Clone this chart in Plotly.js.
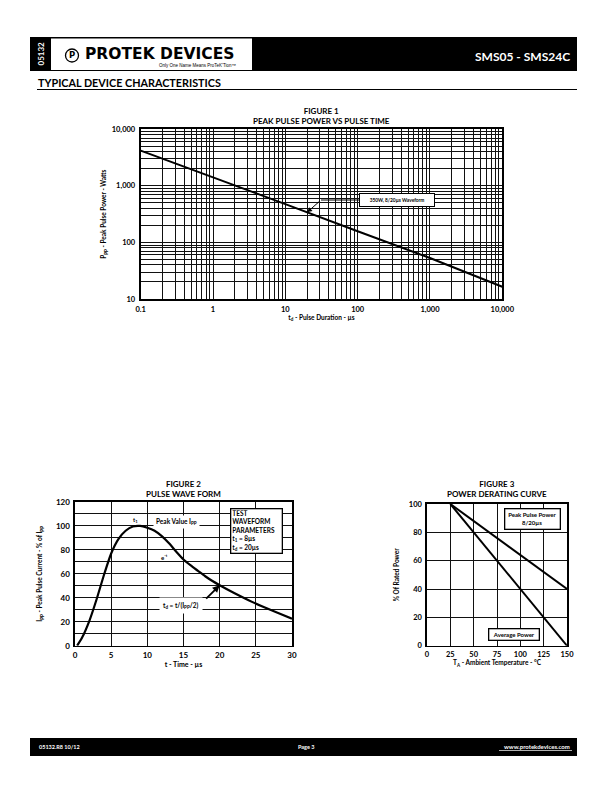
<!DOCTYPE html>
<html><head><meta charset="utf-8">
<script src="https://cdn.plot.ly/plotly-3.0.1.min.js"></script>
<style>body{margin:0;background:#fff}#chart{width:612px;height:792px}</style>
</head><body><div id="chart"></div>
<script>
// ---------- Figure 1: Peak pulse power vs pulse time ----------
const f1Duration = [0.1, 1, 10, 100, 1000, 10000];
const f1Power = [4200, 1430, 475, 158, 53, 16.5];
const f1XTickVals = [0.1, 1, 10, 100, 1000, 10000];
const f1XTickLabels = ['0.1', '1', '10', '100', '1,000', '10,000'];
const f1YTickVals = [10, 100, 1000, 10000];
const f1YTickLabels = ['10', '100', '1,000', '10,000'];

// ---------- Figure 2: Pulse wave form ----------
const f2Time = [0.3, 1, 2, 3, 4, 5, 6, 7, 8, 9, 10, 11, 12, 13, 14, 15, 16, 17, 18, 19, 20, 22, 24, 26, 28, 30];
const f2Current = [0, 7, 21, 39, 59, 77, 89, 96, 99.5, 100, 98.5, 96, 91.5, 85.5, 78.5, 72, 67, 62.5, 58, 54, 50.5, 44, 38, 32.5, 27.5, 22.5];
const f2XTicks = [0, 5, 10, 15, 20, 25, 30];
const f2YTicks = [0, 20, 40, 60, 80, 100, 120];

// ---------- Figure 3: Power derating curve ----------
const f3Temp = [25, 150];
const f3PeakPulse = [100, 40];
const f3Average = [100, 0];
const f3XTicks = [0, 25, 50, 75, 100, 125, 150];
const f3YTicks = [0, 20, 40, 60, 80, 100];

const W = 612, H = 792;
const px = v => v / W;
const py = v => 1 - v / H;
const FONT = 'Lato, "Open Sans", "Liberation Sans", sans-serif';

// minor log-grid positions (2..9 of each decade)
function logMinor(lo, hi) {
  const vals = [];
  for (let e = lo; e < hi; e++) for (let d = 2; d <= 9; d++) vals.push(d * Math.pow(10, e));
  return vals;
}

const tf = (s) => ({family: FONT, size: s, color: '#000', weight: 700});

const baseAxis = {
  showline: true, linecolor: '#000', mirror: true, linewidth: 2,
  showgrid: true, gridcolor: '#111', gridwidth: 1, zeroline: false,
  ticks: 'outside', ticklen: 2, tickcolor: 'rgba(0,0,0,0)', fixedrange: true
};
const logMinorAxis = (lo, hi) => ({tickmode: 'array', tickvals: logMinor(lo, hi), showgrid: true, gridcolor: '#111', gridwidth: 1, ticks: ''});

const traces = [
  {x: f1Duration, y: f1Power, xaxis: 'x', yaxis: 'y', mode: 'lines', line: {color: '#000', width: 2}},
  {x: f2Time, y: f2Current, xaxis: 'x2', yaxis: 'y2', mode: 'lines', line: {color: '#000', width: 2.2, shape: 'spline', smoothing: 0.5}},
  {x: f3Temp, y: f3PeakPulse, xaxis: 'x3', yaxis: 'y3', mode: 'lines', line: {color: '#000', width: 2}},
  {x: f3Temp, y: f3Average, xaxis: 'x3', yaxis: 'y3', mode: 'lines', line: {color: '#000', width: 2}}
];

const annotations = [
  // header
  {xref: 'paper', yref: 'paper', x: px(40.5), y: py(54), text: '<b>05132</b>', textangle: -90, font: {family: FONT, size: 8, color: '#fff'}},
  {xref: 'paper', yref: 'paper', x: px(72), y: py(55.5), text: '<b>P</b>', font: {family: 'DejaVu Sans', size: 8.5, color: '#000'}},
  {xref: 'paper', yref: 'paper', x: px(83), y: py(54.5), xanchor: 'left', text: '<b>PROTEK DEVICES</b>', font: {family: 'DejaVu Sans', size: 15.5, color: '#000'}},
  {xref: 'paper', yref: 'paper', x: px(238), y: py(65.5), xanchor: 'right', text: 'Only One Name Means ProTeK\'Tion™', font: {family: 'Liberation Sans', size: 4.5, color: '#000'}},
  {xref: 'paper', yref: 'paper', x: px(572), y: py(56.5), xanchor: 'right', text: '<b>SMS05 - SMS24C</b>', font: {family: FONT, size: 12, color: '#fff'}},
  {xref: 'paper', yref: 'paper', x: px(36), y: py(82), xanchor: 'left', text: '<b>TYPICAL DEVICE CHARACTERISTICS</b>', font: {family: FONT, size: 10.8, color: '#000'}},
  // footer
  {xref: 'paper', yref: 'paper', x: px(37), y: py(747), xanchor: 'left', text: '<b>05132.R8 10/12</b>', font: {family: FONT, size: 5.5, color: '#fff'}},
  {xref: 'paper', yref: 'paper', x: px(306), y: py(747), text: '<b>Page 3</b>', font: {family: FONT, size: 5.5, color: '#fff'}},
  {xref: 'paper', yref: 'paper', x: px(572), y: py(746.5), xanchor: 'right', text: '<b>www.protekdevices.com</b>', font: {family: FONT, size: 6, color: '#fff'}},
  // figure titles
  {xref: 'paper', yref: 'paper', x: px(321.5), y: py(115.5), text: '<b>FIGURE 1</b><br><b>PEAK PULSE POWER VS PULSE TIME</b>', font: {family: FONT, size: 8, color: '#000'}},
  {xref: 'paper', yref: 'paper', x: px(183.5), y: py(489), text: '<b>FIGURE 2</b><br><b>PULSE WAVE FORM</b>', font: {family: FONT, size: 8, color: '#000'}},
  {xref: 'paper', yref: 'paper', x: px(497), y: py(489), text: '<b>FIGURE 3</b><br><b>POWER DERATING CURVE</b>', font: {family: FONT, size: 8, color: '#000'}},
  // figure 1 callout
  {xref: 'paper', yref: 'paper', x: px(397), y: py(200), text: '<b>350W, 8/20µs Waveform</b>', bgcolor: '#fff', bordercolor: '#000', borderwidth: 1, width: 72, height: 10, font: {family: FONT, size: 4.8, color: '#000'}},
  {xref: 'x', yref: 'y', x: Math.log10(20), y: Math.log10(340), text: '', showarrow: true, arrowhead: 2, arrowsize: 1, arrowwidth: 1, arrowcolor: '#000', ax: 14, ay: -12.5},
  // figure 2 notes
  {xref: 'x2', yref: 'y2', x: 8.3, y: 105, text: '<b>t<sub>1</sub></b>', font: {family: FONT, size: 6, color: '#000'}},
  {xref: 'x2', yref: 'y2', x: 14, y: 103, text: '<b>Peak Value I<sub>PP</sub></b>', bgcolor: '#fff', borderpad: 2, font: {family: FONT, size: 6.5, color: '#000'}},
  {xref: 'x2', yref: 'y2', x: 12.4, y: 74, text: '<b>e<sup>-t</sup></b>', font: {family: FONT, size: 6, color: '#000'}},
  {xref: 'x2', yref: 'y2', x: 14.6, y: 33.5, text: '<b>t<sub>d</sub> = t/(I<sub>PP</sub>/2)</b>', bgcolor: '#fff', borderpad: 3, font: {family: FONT, size: 6.5, color: '#000'}},
  {xref: 'x2', yref: 'y2', x: 20, y: 50.5, text: '', showarrow: true, arrowhead: 2, arrowsize: 0.8, arrowwidth: 1.8, arrowcolor: '#000', ax: -15, ay: 15},
  {xref: 'x2', yref: 'y2', x: 25.1, y: 95.4, text: '<b>TEST<br>WAVEFORM<br>PARAMETERS<br>t<sub>1</sub> = 8µs<br>t<sub>d</sub> = 20µs</b>', align: 'left', bgcolor: '#fff', bordercolor: '#000', borderwidth: 1.3, width: 48, height: 41, font: {family: FONT, size: 6.5, color: '#000'}},
  // figure 3 notes
  {xref: 'x3', yref: 'y3', x: 112.5, y: 89.4, text: '<b>Peak Pulse Power<br>8/20µs</b>', bgcolor: '#fff', bordercolor: '#000', borderwidth: 1.3, width: 52, height: 17, font: {family: FONT, size: 6, color: '#000'}},
  {xref: 'x3', yref: 'y3', x: 93.2, y: 7.9, text: '<b>Average Power</b>', bgcolor: '#fff', bordercolor: '#000', borderwidth: 1.3, width: 47, height: 8, font: {family: FONT, size: 6, color: '#000'}}
].map(a => Object.assign({showarrow: false, xanchor: 'center', yanchor: 'middle'}, a));

const layout = {
  width: W, height: H, margin: {l: 0, r: 0, t: 0, b: 0},
  paper_bgcolor: '#fff', plot_bgcolor: '#fff', showlegend: false,
  font: {family: FONT, color: '#000'},
  xaxis: Object.assign({}, baseAxis, {
    type: 'log', range: [-1, 4], domain: [px(140.7), px(502.3)], anchor: 'y',
    tickmode: 'array', tickvals: f1XTickVals, ticktext: f1XTickLabels, tickfont: tf(7.5),
    minor: logMinorAxis(-1, 4),
    title: {text: 't<sub>d</sub> - Pulse Duration - µs', font: tf(6.5), standoff: 0}
  }),
  yaxis: Object.assign({}, baseAxis, {
    type: 'log', range: [1, 4], domain: [py(299), py(129.3)], anchor: 'x',
    tickmode: 'array', tickvals: f1YTickVals, ticktext: f1YTickLabels, tickfont: tf(7.5),
    minor: logMinorAxis(1, 4),
    title: {text: 'P<sub>PP</sub> - Peak Pulse Power - Watts', font: tf(6.5), standoff: 4}
  }),
  xaxis2: Object.assign({}, baseAxis, {
    range: [0, 30], domain: [px(75), px(292)], anchor: 'y2', linewidth: 1.6, ticklen: 1,
    tickmode: 'array', tickvals: f2XTicks, tickfont: tf(8),
    title: {text: 't - Time - µs', font: tf(7), standoff: 2}
  }),
  yaxis2: Object.assign({}, baseAxis, {
    range: [0, 120], domain: [py(645.7), py(502)], anchor: 'x2', linewidth: 1.6,
    tickmode: 'array', tickvals: f2YTicks, tickfont: tf(8),
    minor: {dtick: 10, showgrid: true, gridcolor: '#111', gridwidth: 1, ticks: ''},
    title: {text: 'I<sub>PP</sub> - Peak Pulse Current - % of I<sub>PP</sub>', font: tf(6.5), standoff: 12}
  }),
  xaxis3: Object.assign({}, baseAxis, {
    range: [0, 150], domain: [px(427), px(567)], anchor: 'y3', linewidth: 1.6, ticklen: 1,
    tickmode: 'array', tickvals: f3XTicks, tickfont: tf(7.5),
    title: {text: 'T<sub>A</sub> - Ambient Temperature - °C', font: tf(6.5), standoff: 2}
  }),
  yaxis3: Object.assign({}, baseAxis, {
    range: [0, 100], domain: [py(645.7), py(504)], anchor: 'x3', linewidth: 1.6,
    tickmode: 'array', tickvals: f3YTicks, tickfont: tf(7.5),
    title: {text: '% Of Rated Power', font: tf(6.5), standoff: 8}
  }),
  shapes: [
    // header bar
    {type: 'rect', xref: 'paper', yref: 'paper', x0: px(30), x1: px(577), y0: py(71), y1: py(37), fillcolor: '#000', line: {width: 0}, layer: 'below'},
    {type: 'rect', xref: 'paper', yref: 'paper', x0: px(51), x1: px(252), y0: py(70), y1: py(38.5), fillcolor: '#fff', line: {width: 0}},
    {type: 'circle', xref: 'paper', yref: 'paper', x0: px(65.5), x1: px(78.5), y0: py(62), y1: py(49), fillcolor: 'rgba(0,0,0,0)', line: {color: '#000', width: 1.3}},
    // heading rule
    {type: 'line', xref: 'paper', yref: 'paper', x0: px(37), x1: px(577), y0: py(89.5), y1: py(89.5), line: {color: '#000', width: 1}},
    // footer bar
    {type: 'rect', xref: 'paper', yref: 'paper', x0: px(30), x1: px(577), y0: py(756), y1: py(738), fillcolor: '#000', line: {width: 0}, layer: 'below'},
    {type: 'line', xref: 'paper', yref: 'paper', x0: px(499), x1: px(572), y0: py(750.5), y1: py(750.5), line: {color: '#fff', width: 0.7}},
    // figure 1 callout leader
    {type: 'line', xref: 'paper', yref: 'paper', x0: px(321), x1: px(361), y0: py(200), y1: py(200), line: {color: '#000', width: 1}}
  ],
  annotations: annotations
};

Plotly.newPlot('chart', traces, layout, {staticPlot: true, displayModeBar: false});
</script>
</body></html>
